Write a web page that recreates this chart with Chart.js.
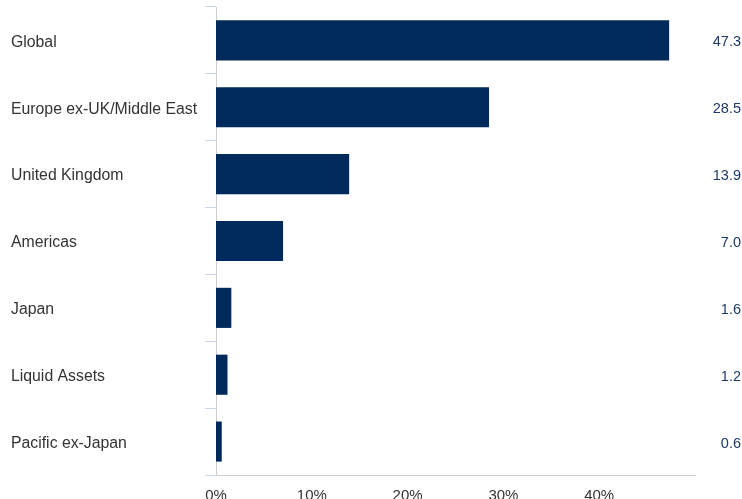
<!DOCTYPE html>
<html>
<head>
<meta charset="utf-8">
<script src="https://cdn.jsdelivr.net/npm/chart.js@4"></script>
<style>
  body { margin: 0; background: #fff; }
  #wrap { width: 742px; height: 499px; }
</style>
</head>
<body>
<div id="wrap"><canvas id="myChart"></canvas></div>
<script>
// regions and weights (%)
const regions = ['Global', 'Europe ex-UK/Middle East', 'United Kingdom', 'Americas', 'Japan', 'Liquid Assets', 'Pacific ex-Japan'];
const weights = [47.3, 28.5, 13.9, 7.0, 1.6, 1.2, 0.6];
const xTicks = [0, 10, 20, 30, 40];

// value labels on the right side
const valueLabels = {
    id: 'valueLabels',
    afterDraw(chart) {
        const ctx = chart.ctx;
        const y = chart.scales.y;
        ctx.save();
        ctx.font = '14.5px "Liberation Sans", Arial, sans-serif';
        ctx.fillStyle = '#1c3a6a';
        ctx.textAlign = 'right';
        ctx.textBaseline = 'middle';
        weights.forEach(function(v, i) {
            ctx.fillText(v.toFixed(1), 741, y.getPixelForValue(i) + 2);
        });
        ctx.restore();
    }
};

new Chart(document.getElementById('myChart'), {
    type: 'bar',
    data: {
        labels: regions,
        datasets: [{
            data: weights,
            backgroundColor: '#012a5c',
            barPercentage: 0.6,
            categoryPercentage: 1.0
        }]
    },
    options: {
        indexAxis: 'y',
        responsive: true,
        maintainAspectRatio: false,
        animation: false,
        layout: { padding: { left: 11, right: 47, top: 7, bottom: 0 } },
        plugins: {
            legend: { display: false },
            tooltip: { enabled: false }
        },
        scales: {
            x: {
                min: 0,
                max: 50,
                afterBuildTicks: function(axis) {
                    axis.ticks = xTicks.map(function(v) { return { value: v }; });
                },
                afterFit: function(axis) {
                    axis.height = 24;
                    axis.paddingLeft = 0;
                    axis.paddingRight = 0;
                },
                grid: { display: false, drawTicks: false },
                border: { display: true, color: '#cccccc' },
                ticks: {
                    padding: 12,
                    color: '#333333',
                    font: { family: '"Liberation Sans", Arial, sans-serif', size: 15 },
                    callback: function(v) { return v + '%'; }
                }
            },
            y: {
                afterFit: function(axis) {
                    axis.width = 205;
                    axis.paddingTop = 0;
                    axis.paddingBottom = 0;
                },
                grid: {
                    offset: true,
                    drawOnChartArea: false,
                    drawTicks: true,
                    tickLength: 11,
                    color: '#ccd6eb'
                },
                border: { display: true, color: '#cccccc' },
                ticks: {
                    crossAlign: 'far',
                    padding: 0,
                    labelOffset: 2,
                    color: '#333333',
                    font: { family: '"Liberation Sans", Arial, sans-serif', size: 15.8 }
                }
            }
        }
    },
    plugins: [valueLabels]
});
</script>
</body>
</html>
